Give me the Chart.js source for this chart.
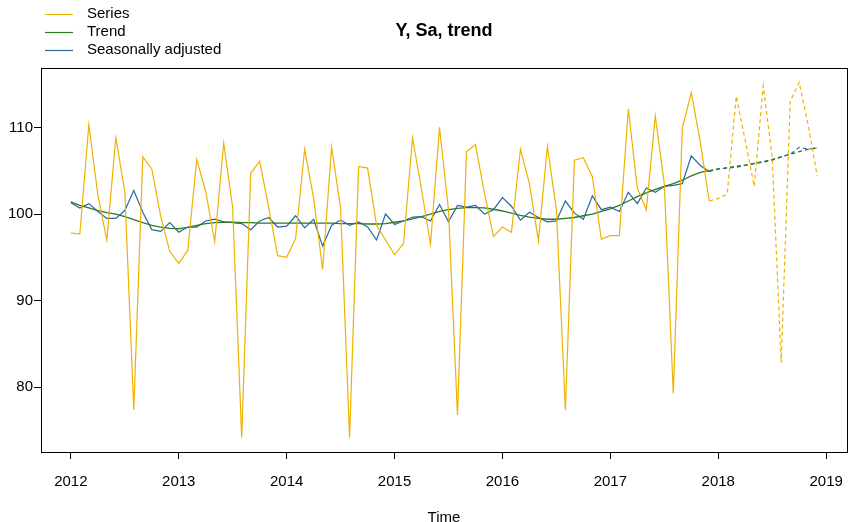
<!DOCTYPE html>
<html><head><meta charset="utf-8">
<script src="https://cdn.jsdelivr.net/npm/chart.js@4"></script>
<style>html,body{margin:0;padding:0;background:#fff}#wrap{position:relative;width:849px;height:522px}</style>
</head><body><div id="wrap"><canvas id="c" width="849" height="522"></canvas></div>
<script>
const startYear = 2012;
const yearTicks = [2012, 2013, 2014, 2015, 2016, 2017, 2018, 2019];
const yTicks = [80, 90, 100, 110];
const seriesValues = [
  97.8, 97.7, 110.3, 102.2, 97.0, 108.8, 102.6, 77.4, 106.6, 105.2, 99.7, 95.7,
  94.3, 95.8, 106.3, 102.6, 96.8, 108.2, 100.7, 74.2, 104.7, 106.1, 100.8, 95.2,
  95.0, 97.2, 107.5, 101.8, 93.6, 107.7, 100.7, 74.2, 105.5, 105.3, 98.7, 97.0,
  95.3, 96.6, 108.8, 102.8, 96.5, 110.0, 100.5, 76.8, 107.2, 108.0, 102.4, 97.4,
  98.5, 97.9, 107.5, 103.5, 96.9, 107.8, 100.5, 77.4, 106.2, 106.5, 104.3, 97.1,
  97.5, 97.5, 112.1, 103.0, 100.5, 111.3, 103.5, 79.3, 109.9, 114.0, 108.3, 101.5
];
const seriesForecast = [101.8, 102.3, 113.6, 108.5, 103.2, 114.8, 106.6, 82.8, 113.0, 115.2, 110.3, 104.4];
const trendValues = [
  101.4, 101.0, 100.7, 100.4, 100.15, 100.0, 99.7, 99.35, 99.0, 98.7, 98.5, 98.35,
  98.3, 98.45, 98.7, 98.9, 99.0, 99.05, 99.05, 99.0, 99.0, 98.95, 98.95, 98.95,
  98.95, 98.95, 98.95, 98.95, 98.95, 98.95, 98.9, 98.9, 98.9, 98.85, 98.85, 98.9,
  99.05, 99.2, 99.45, 99.7, 100.0, 100.3, 100.5, 100.65, 100.75, 100.75, 100.7, 100.55,
  100.35, 100.1, 99.85, 99.65, 99.5, 99.4, 99.4, 99.5, 99.6, 99.8, 100.0, 100.3,
  100.6, 101.0, 101.5, 102.0, 102.45, 102.85, 103.2, 103.5, 103.9, 104.4, 104.8, 105.0
];
const trendForecast = [105.2, 105.35, 105.5, 105.65, 105.85, 106.05, 106.3, 106.6, 106.9, 107.2, 107.45, 107.65];
const saValues = [
  101.3, 100.7, 101.2, 100.3, 99.5, 99.5, 100.4, 102.7, 100.2, 98.2, 98.0, 99.0,
  97.9, 98.5, 98.5, 99.2, 99.4, 99.1, 99.0, 98.9, 98.2, 99.2, 99.6, 98.5,
  98.6, 99.8, 98.4, 99.4, 96.3, 98.7, 99.3, 98.7, 99.1, 98.5, 97.0, 100.0,
  98.8, 99.2, 99.65, 99.7, 99.2, 101.1, 99.1, 101.0, 100.8, 101.0, 100.0, 100.5,
  101.9, 100.9, 99.3, 100.2, 99.6, 99.1, 99.2, 101.5, 100.1, 99.4, 102.1, 100.5,
  100.8, 100.3, 102.5, 101.2, 103.0, 102.5, 103.2, 103.3, 103.5, 106.7, 105.6, 104.9
];
const saForecast = [105.2, 105.3, 105.4, 105.6, 105.8, 106.0, 106.2, 106.6, 106.9, 107.7, 107.5, 107.6];
const legendLabels = ['Series', 'Trend', 'Seasonally adjusted'];
const chartTitle = 'Y, Sa, trend';
const xAxisTitle = 'Time';

const COL_SERIES = '#F0B200';
const COL_TREND = '#2D7A22';
const COL_SA = '#2B66A3';
const FONT = '"Liberation Sans", Arial, Helvetica, sans-serif';

function pts(vals, offset) { return vals.map((v, i) => ({ x: startYear + (i + offset) / 12, y: v })); }
function fc(lastVal, vals) { return [{ x: startYear + 71 / 12, y: lastVal }].concat(pts(vals, 72)); }

const framePlugin = {
  id: 'frame',
  afterDraw(chart) {
    const ctx = chart.ctx, a = chart.chartArea;
    ctx.save();
    ctx.strokeStyle = '#000'; ctx.lineWidth = 1;
    ctx.strokeRect(Math.round(a.left) + 0.5, Math.round(a.top) + 0.5, Math.round(a.right - a.left), Math.round(a.bottom - a.top));
    ctx.fillStyle = '#000';
    ctx.font = 'bold 18px ' + FONT;
    ctx.textAlign = 'center'; ctx.textBaseline = 'middle';
    ctx.fillText(chartTitle, (a.left + a.right) / 2, 31);
    const cols = [COL_SERIES, COL_TREND, COL_SA];
    ctx.font = '15px ' + FONT;
    ctx.textAlign = 'left';
    legendLabels.forEach((t, k) => {
      const y = 14 + k * 18;
      ctx.strokeStyle = cols[k]; ctx.lineWidth = 1.2;
      ctx.beginPath(); ctx.moveTo(45, Math.round(y) + 0.5); ctx.lineTo(73, Math.round(y) + 0.5); ctx.stroke();
      ctx.fillText(t, 87, y);
    });
    ctx.restore();
  }
};

new Chart(document.getElementById('c'), {
  type: 'line',
  data: {
    datasets: [
      { label: legendLabels[0], data: pts(seriesValues, 0), borderColor: COL_SERIES, borderWidth: 1.2 },
      { label: legendLabels[0] + ' forecast', data: fc(seriesValues[71], seriesForecast), borderColor: COL_SERIES, borderWidth: 1.2, borderDash: [4, 3] },
      { label: legendLabels[1], data: pts(trendValues, 0), borderColor: COL_TREND, borderWidth: 1.3 },
      { label: legendLabels[1] + ' forecast', data: fc(trendValues[71], trendForecast), borderColor: COL_TREND, borderWidth: 1.3, borderDash: [4, 3] },
      { label: legendLabels[2], data: pts(saValues, 0), borderColor: COL_SA, borderWidth: 1.2 },
      { label: legendLabels[2] + ' forecast', data: fc(saValues[71], saForecast), borderColor: COL_SA, borderWidth: 1.2, borderDash: [4, 3] }
    ]
  },
  options: {
    responsive: false, animation: false, devicePixelRatio: 1,
    layout: { padding: { top: 68, right: 2, left: 0, bottom: 0 } },
    elements: { point: { radius: 0 }, line: { tension: 0, fill: false } },
    plugins: { legend: { display: false }, title: { display: false }, tooltip: { enabled: false } },
    scales: {
      x: {
        type: 'linear', min: 2011.7233, max: 2019.1933,
        afterBuildTicks: s => { s.ticks = yearTicks.map(v => ({ value: v })); },
        afterFit: s => { s.height = 70; s.paddingLeft = 0; s.paddingRight = 0; },
        ticks: { callback: v => String(v), color: '#000', font: { family: FONT, size: 15 }, padding: 14, maxRotation: 0, autoSkip: false },
        grid: { display: true, drawOnChartArea: false, drawTicks: true, tickLength: 7, color: '#000', lineWidth: 1 },
        border: { display: false },
        title: { display: true, text: xAxisTitle, color: '#000', font: { family: FONT, size: 15 }, padding: { top: 0, bottom: -5 } }
      },
      y: {
        type: 'linear', min: 72.54, max: 116.85,
        afterBuildTicks: s => { s.ticks = yTicks.map(v => ({ value: v })); },
        afterFit: s => { s.width = 41; s.paddingTop = 0; s.paddingBottom = 0; },
        ticks: { callback: v => String(v), color: '#000', font: { family: FONT, size: 15 }, padding: 1 },
        grid: { display: true, drawOnChartArea: false, drawTicks: true, tickLength: 7, color: '#000', lineWidth: 1 },
        border: { display: false }
      }
    }
  },
  plugins: [framePlugin]
});
</script></body></html>
